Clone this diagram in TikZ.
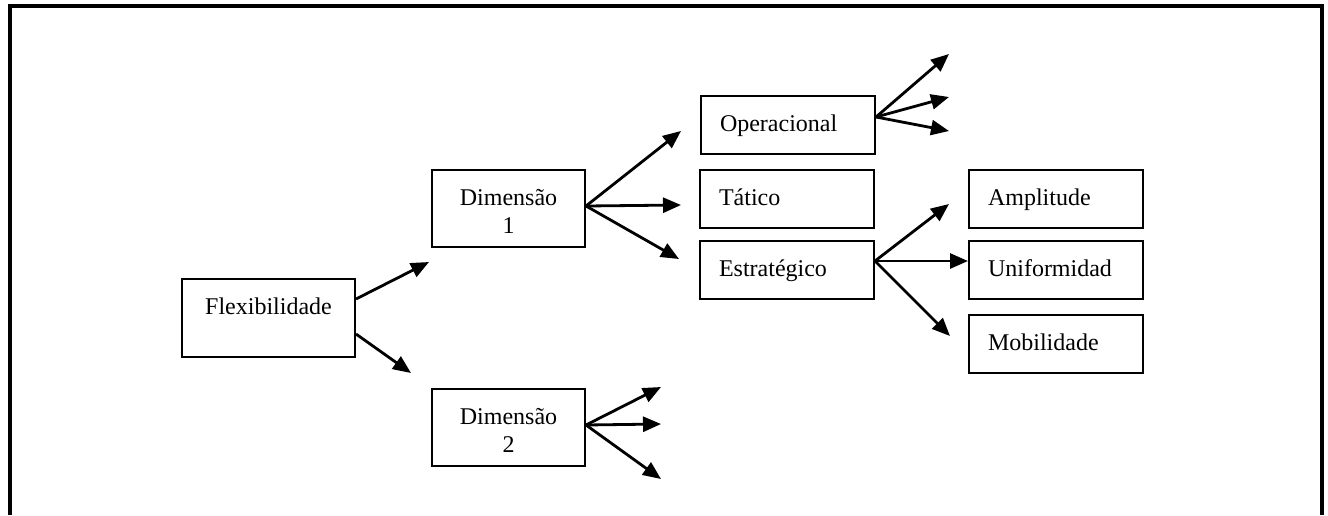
\documentclass[tikz,border=0pt]{standalone}
\usepackage{fontspec}
\setmainfont{Liberation Serif}
\usetikzlibrary{arrows.meta}

\begin{document}
\begin{tikzpicture}[x=0.5pt, y=-0.5pt,
    box/.style={draw, line width=1pt, anchor=north west, inner ysep=0pt,
      font=\fontsize{12}{14}\selectfont, text height=17.5pt},
    midbox/.style={box, inner xsep=4pt, align=center},
    leftbox/.style={box, inner xsep=9.5pt, text width=68pt, align=left,
      text depth=11.5pt},
    arr/.style={line width=1.4pt, -{Triangle[length=9pt, width=7.5pt]}}]
  \useasboundingbox (0,0) rectangle (1328,515);
  % frame, open at the bottom
  \draw[line width=2pt] (10,515) -- (10,6) -- (1322,6) -- (1322,515);

  \node[midbox, text width=78.5pt, text depth=21.5pt] (flex) at (181,278) {Flexibilidade};
  \node[midbox, text width=68.5pt, text depth=21pt] (dimA) at (431,169) {Dimensão\\1};
  \node[midbox, text width=68.5pt, text depth=21pt] (dimB) at (431,388) {Dimensão\\2};

  \node[leftbox] (oper) at (700,95) {Operacional};
  \node[leftbox] (tatico) at (699,169) {Tático};
  \node[leftbox] (estrat) at (699,240) {Estratégico};

  \node[leftbox] (ampl) at (968,169) {Amplitude};
  \node[leftbox] (unif) at (968,240) {Uniformidad};
  \node[leftbox] (mobil) at (968,314) {Mobilidade};

  % starting points and free arrow ends
  \coordinate (flexA) at ([yshift=9.5pt]flex.east);
  \coordinate (flexB) at ([yshift=-8pt]flex.east);
  \coordinate (dimAO) at ([yshift=1.25pt]dimA.east);
  \coordinate (dimBO) at ([yshift=1.25pt]dimB.east);
  \coordinate (operO) at ([yshift=4pt]oper.east);
  \coordinate (estratO) at ([yshift=4.5pt]estrat.east);
  \coordinate (unifIn) at ([yshift=4.5pt]unif.west);
  \coordinate (toDimA) at (429,262);
  \coordinate (toDimB) at (411,373);
  \coordinate (toOper) at (681,131);
  \coordinate (toTatico) at (681,205);
  \coordinate (toEstrat) at (679,259);
  \coordinate (oper1) at (949,54);
  \coordinate (oper2) at (949,97);
  \coordinate (oper3) at (949,131);
  \coordinate (toAmpl) at (949,204);
  \coordinate (toMobil) at (950,336);
  \coordinate (dimB1) at (661,387);
  \coordinate (dimB2) at (661,424);
  \coordinate (dimB3) at (661,479);

  \draw[arr] (flexA) -- (toDimA);
  \draw[arr] (flexB) -- (toDimB);
  \draw[arr] (dimAO) -- (toOper);
  \draw[arr] (dimAO) -- (toTatico);
  \draw[arr] (dimAO) -- (toEstrat);
  \draw[arr] (operO) -- (oper1);
  \draw[arr] (operO) -- (oper2);
  \draw[arr] (operO) -- (oper3);
  \draw[arr] (estratO) -- (toAmpl);
  \draw[arr] (estratO) -- (unifIn);
  \draw[arr] (estratO) -- (toMobil);
  \draw[arr] (dimBO) -- (dimB1);
  \draw[arr] (dimBO) -- (dimB2);
  \draw[arr] (dimBO) -- (dimB3);
\end{tikzpicture}
\end{document}
